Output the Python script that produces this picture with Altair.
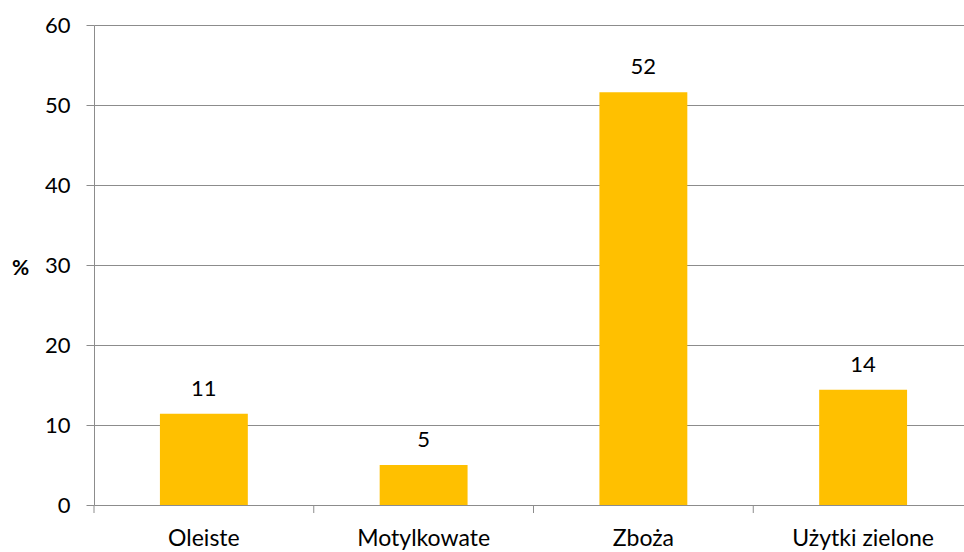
import altair as alt
import pandas as pd

# Share of area by crop group (%)
categories = ["Oleiste", "Motylkowate", "Zboża", "Użytki zielone"]
shares = [11.4, 5.0, 51.6, 14.4]

df = pd.DataFrame({"grupa": categories, "udzial": shares})

FONT = "Lato"
SIZE = 23
GRID = "#8c8c8c"
BAR = "#FFC000"

x_scale = alt.Scale(domain=categories, paddingInner=0.6, paddingOuter=0.3)
# same slots without padding: band edges fall on the slot boundaries
slot_scale = alt.Scale(domain=categories, paddingInner=0, paddingOuter=0)
y_scale = alt.Scale(domain=[0, 60], nice=False, zero=True)

base = alt.Chart(df)

bars = base.mark_bar(color=BAR).encode(
    x=alt.X(
        "grupa:N",
        scale=x_scale,
        sort=categories,
        axis=alt.Axis(
            title=None,
            labelAngle=0,
            labelFont=FONT,
            labelFontSize=SIZE,
            labelColor="#000000",
            labelPadding=22,
            ticks=False,
            tickSize=0,
            domain=False,
            grid=False,
        ),
    ),
    y=alt.Y(
        "udzial:Q",
        scale=y_scale,
        axis=alt.Axis(
            title="%",
            titleAngle=0,
            titleFont=FONT,
            titleFontSize=SIZE - 2,
            titleFontWeight="bold",
            titleColor="#000000",
            titleAlign="center",
            titleBaseline="middle",
            titleX=-74,
            titleY=243,
            values=[0, 10, 20, 30, 40, 50, 60],
            labelFont=FONT,
            labelFontSize=SIZE - 1,
            labelColor="#000000",
            labelPadding=16,
            tickSize=8,
            tickColor=GRID,
            domainColor=GRID,
            gridColor=GRID,
            grid=True,
        ),
    ),
)

labels = base.mark_text(
    font=FONT, fontSize=SIZE - 1, color="#000000", baseline="alphabetic", dy=-18
).encode(
    x=alt.X("grupa:N", scale=x_scale, sort=categories, axis=None),
    y=alt.Y("udzial:Q", scale=y_scale),
    text=alt.Text("udzial:Q", format=".0f"),
)

# small downward ticks on the left edge of every category slot
xticks = base.mark_rule(color=GRID, strokeWidth=1, clip=False).encode(
    x=alt.X("grupa:N", scale=slot_scale, sort=categories, bandPosition=0, axis=None),
    y=alt.datum(0, scale=y_scale),
    y2=alt.datum(-1),
)

chart = (
    alt.layer(bars, labels, xticks)
    .resolve_scale(x="independent")
    .properties(
        width=879,
        height=480,
        # the plot runs a little past the right edge of the canvas
        padding={"left": 94, "top": 25, "right": -9, "bottom": 47},
        autosize="none",
        background="#ffffff",
    )
    .configure_view(stroke=None)
)

chart.save("out.html", embed_options={"renderer": "svg", "actions": False})
